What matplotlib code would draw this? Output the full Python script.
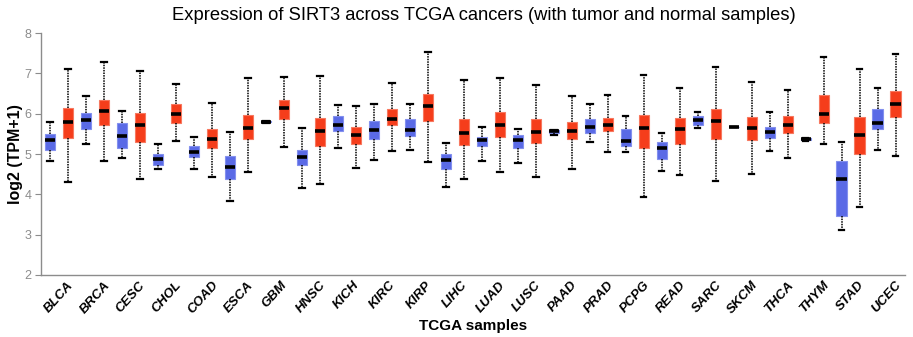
import matplotlib
matplotlib.use("Agg")
import matplotlib.pyplot as plt

cancers = ["BLCA", "BRCA", "CESC", "CHOL", "COAD", "ESCA", "GBM", "HNSC", "KICH", "KIRC",
           "KIRP", "LIHC", "LUAD", "LUSC", "PAAD", "PRAD", "PCPG", "READ", "SARC", "SKCM",
           "THCA", "THYM", "STAD", "UCEC"]

# normal samples: whisker low, q1, median, q3, whisker high
normal_lo  = [4.82, 5.25, 4.90, 4.64, 4.64, 3.83, 5.78, 4.16, 5.15, 4.86, 5.09, 4.18,
              4.83, 4.77, 5.48, 5.29, 5.05, 4.58, 5.64, 5.66, 5.07, 5.33, 3.11, 5.10]
normal_q1  = [5.10, 5.63, 5.16, 4.73, 4.92, 4.39, 5.79, 4.73, 5.58, 5.36, 5.45, 4.63,
              5.20, 5.14, 5.52, 5.53, 5.19, 4.88, 5.73, 5.665, 5.39, 5.35, 3.46, 5.62]
normal_med = [5.35, 5.85, 5.44, 4.87, 5.06, 4.67, 5.80, 4.92, 5.71, 5.60, 5.60, 4.86,
              5.34, 5.35, 5.57, 5.67, 5.32, 5.15, 5.84, 5.67, 5.54, 5.37, 4.37, 5.78]
normal_q3  = [5.49, 6.02, 5.76, 5.00, 5.20, 4.96, 5.81, 5.10, 5.95, 5.81, 5.88, 5.00,
              5.43, 5.48, 5.59, 5.86, 5.62, 5.29, 5.95, 5.675, 5.67, 5.39, 4.83, 6.11]
normal_hi  = [5.79, 6.45, 6.07, 5.26, 5.43, 5.54, 5.82, 5.65, 6.22, 6.24, 6.23, 5.28,
              5.68, 5.62, 5.60, 6.23, 5.95, 5.52, 6.04, 5.68, 6.05, 5.40, 5.30, 6.63]

# tumor samples
tumor_lo  = [4.30, 4.82, 4.38, 5.32, 4.44, 4.55, 5.17, 4.26, 4.66, 5.07, 4.79, 4.39,
             4.55, 4.43, 4.63, 5.05, 3.94, 4.47, 4.33, 4.51, 4.89, 5.25, 3.69, 4.96]
tumor_q1  = [5.40, 5.71, 5.31, 5.76, 5.16, 5.37, 5.87, 5.20, 5.26, 5.71, 5.82, 5.23,
             5.43, 5.28, 5.37, 5.58, 5.16, 5.26, 5.38, 5.34, 5.52, 5.76, 4.99, 5.91]
tumor_med = [5.79, 6.07, 5.71, 6.00, 5.38, 5.65, 6.14, 5.56, 5.47, 5.88, 6.18, 5.52,
             5.71, 5.54, 5.58, 5.73, 5.65, 5.62, 5.82, 5.65, 5.73, 5.99, 5.47, 6.25]
tumor_q3  = [6.15, 6.33, 6.02, 6.23, 5.62, 5.97, 6.35, 5.90, 5.67, 6.11, 6.50, 5.86,
             6.04, 5.86, 5.79, 5.90, 5.97, 5.89, 6.11, 5.93, 5.94, 6.47, 5.93, 6.56]
tumor_hi  = [7.12, 7.27, 7.05, 6.73, 6.26, 6.89, 6.92, 6.94, 6.19, 6.75, 7.52, 6.83,
             6.89, 6.70, 6.45, 6.47, 6.95, 6.64, 7.15, 6.79, 6.58, 7.40, 7.10, 7.47]

BLUE = "#5a6ae6"
RED = "#f53d1b"

plt.rcParams["font.family"] = ["Liberation Sans", "DejaVu Sans"]

fig = plt.figure(figsize=(9.13, 3.37), dpi=100)
ax = fig.add_axes([0.0449, 0.184, 0.946, 0.718])

def stats(lo, q1, med, q3, hi):
    return [dict(whislo=a, q1=b, med=c, q3=d, whishi=e, fliers=[])
            for a, b, c, d, e in zip(lo, q1, med, q3, hi)]

n_stats = stats(normal_lo, normal_q1, normal_med, normal_q3, normal_hi)
t_stats = stats(tumor_lo, tumor_q1, tumor_med, tumor_q3, tumor_hi)

n = len(cancers)
pos_n = [2 * i for i in range(n)]
pos_t = [2 * i + 1 for i in range(n)]

common = dict(
    widths=0.58, patch_artist=True, showfliers=False,
    whiskerprops=dict(color="black", linestyle=(0, (1.0, 0.7)), linewidth=1.1),
    capprops=dict(color="black", linewidth=1.6),
    medianprops=dict(color="black", linewidth=2.6, solid_capstyle="butt"),
    capwidths=0.3,
)
bn = ax.bxp(n_stats, positions=pos_n, **common)
bt = ax.bxp(t_stats, positions=pos_t, **common)
for b in bn["boxes"]:
    b.set_facecolor(BLUE)
    b.set_edgecolor("#8390ee")
    b.set_linewidth(0.8)
for b in bt["boxes"]:
    b.set_facecolor(RED)
    b.set_edgecolor("#f7785f")
    b.set_linewidth(0.8)

ax.set_xlim(-0.5, 2 * n - 0.5)
ax.set_ylim(2, 8)
ax.set_yticks([2, 3, 4, 5, 6, 7, 8])
ax.set_xticks([2 * i + 0.5 for i in range(n)])
ax.set_xticklabels(cancers, rotation=48, ha="center", va="top",
                   fontsize=9.5, fontweight="bold", fontstyle="italic")
ax.tick_params(axis="x", length=0, pad=3)
ax.tick_params(axis="y", colors="#8c8c8c", labelsize=9, length=4, width=0.8, pad=3)
for s in ["top", "right"]:
    ax.spines[s].set_visible(False)
for s in ["left", "bottom"]:
    ax.spines[s].set_color("#8c8c8c")
    ax.spines[s].set_linewidth(1.0)

ax.set_ylabel("log2 (TPM+1)", fontsize=11.5, fontweight="bold", labelpad=1)
ax.set_xlabel("TCGA samples", fontsize=11, fontweight="bold", labelpad=2)
fig.text(0.53, 0.955, "Expression of SIRT3 across TCGA cancers (with tumor and normal samples)",
         ha="center", va="center", fontsize=13.2)

fig.savefig("out.png", dpi=100)
